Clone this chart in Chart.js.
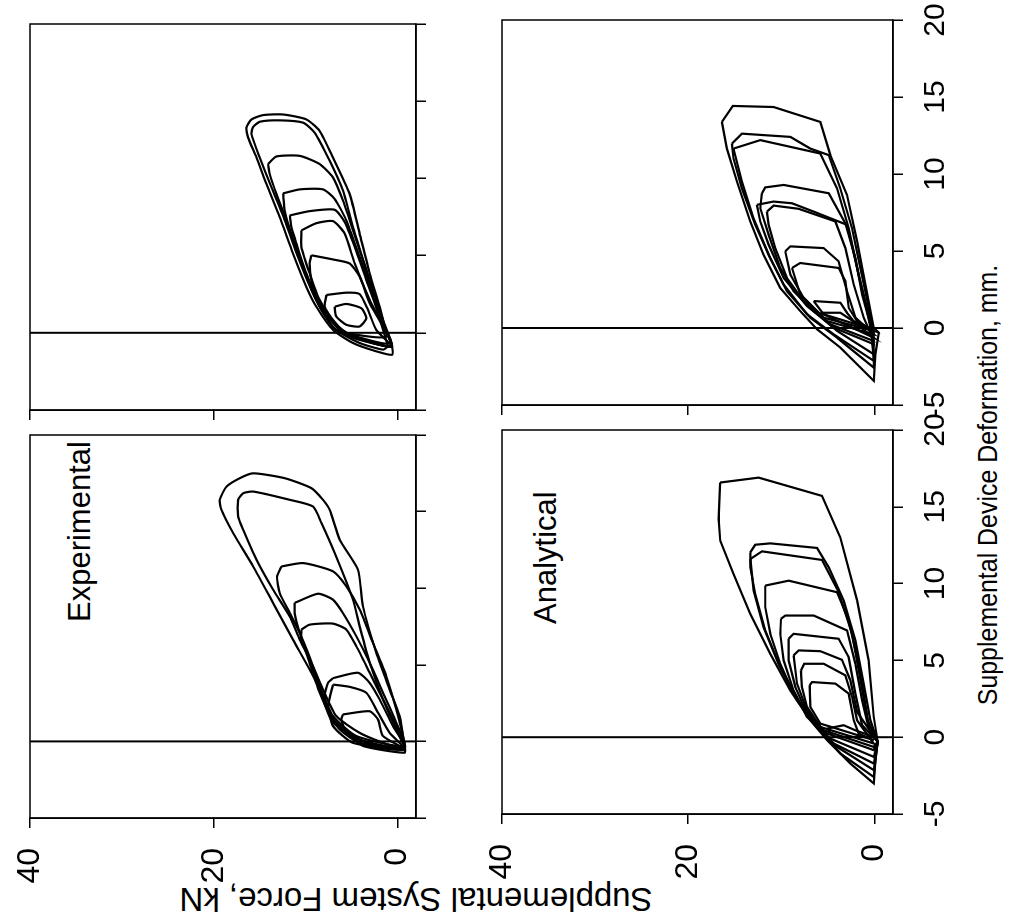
<!DOCTYPE html>
<html><head><meta charset="utf-8">
<script src="https://cdn.jsdelivr.net/npm/chart.js@4.4.1/dist/chart.umd.min.js"></script>
<style>
html,body{margin:0;padding:0;background:#fff;overflow:hidden;width:1013px;height:919px;}
#fig{position:absolute;left:0;top:0;width:919px;height:1013px;transform-origin:0 0;transform:translate(0px,919px) rotate(-90deg);}
#fig canvas{position:absolute;}
.lbl{position:absolute;white-space:nowrap;font-family:"Liberation Sans",Arial,Helvetica,sans-serif;color:#000;line-height:1;}
</style></head><body>
<div id="fig">
  <div class="lbl" style="left:297px;top:64px;font-size:31px;">Experimental</div>
  <div class="lbl" style="left:295px;top:530px;font-size:31px;">Analytical</div>
  <div class="lbl" style="left:20px;top:416px;font-size:33px;transform:translate(-50%,-50%) rotate(-90deg);">Supplemental System Force, kN</div>
  <div class="lbl" style="left:434px;top:988px;font-size:28px;transform:translate(-50%,-50%) scaleX(0.89);">Supplemental Device Deformation, mm.</div>
</div>
<script>
// ---------- tick values ----------
const DEF_TICKS = [-5, 0, 5, 10, 15, 20];
const FORCE_TICKS = [0, 20, 40];
const DEF_RANGE = [-5, 20];
const FORCE_RANGE = [-2, 40];
const ZERO_DEF = 0;
const ZERO_LINE_FORCE = [-2, 40];

// ---------- Experimental, left panel: [deformation mm, force kN] ----------
const E1_L1 = [[-0.3,-0.76],[1.65,-0.22],[3.39,0.87],[5.78,2.32],[8.81,3.77],[11.2,4.31],[13.16,6.3],[15.11,7.39],[15.77,8.12],[16.53,9.38],[17.18,12.28],[17.5,15.72],[17.18,17.17],[16.63,18.62],[15.77,19.35],[15.11,19.17],[13.6,17.9],[11.42,15.72],[9.04,13.55],[6.64,11.38],[4.69,9.57],[3.17,8.29],[1.43,7.03],[0.35,4.86],[-0.3,3.77],[-0.74,-0.76],[-0.3,-0.76]];
const E1_L2 = [[0.56,-0.04],[2.74,1.59],[5.13,3.04],[7.51,4.13],[9.25,4.86],[12.29,6.85],[14.25,8.29],[15.33,9.2],[15.77,11.74],[16.31,15.72],[16.2,16.8],[15.77,17.35],[14.68,17.35],[13.81,16.8],[11.86,15.36],[9.9,13.55],[8.16,11.74],[6.64,10.65],[4.9,9.2],[3.39,8.12],[1.65,6.67],[0.56,4.13],[-0.09,1.59],[-0.52,-0.76],[0.56,-0.04]];
const E1_L3 = [[11.42,12.64],[11.64,10.29],[11.1,7.03],[10.12,5.58],[8.6,4.13],[6.43,2.68],[4.25,1.23],[2.08,0.14],[0.35,-0.58],[-0.52,-0.76],[-0.09,3.4],[1.22,7.03],[2.74,8.12],[4.9,9.2],[7.08,10.65],[8.38,11.74],[9.68,12.83],[10.77,13.12],[11.42,12.64]];
const E1_L4 = [[9.04,11.2],[9.64,8.66],[9.25,7.03],[8.38,5.95],[6.86,4.49],[5.13,3.04],[3.17,1.59],[1.22,0.14],[-0.41,-0.76],[0.13,4.13],[1.43,7.03],[3.17,8.48],[5.13,9.57],[7.08,10.65],[8.38,11.2],[9.04,11.2]];
const E1_L5 = [[7.3,10.47],[7.62,9.57],[7.69,7.03],[7.3,5.58],[6.21,4.49],[4.48,3.04],[2.74,1.59],[1.0,0.14],[-0.3,-0.65],[0.35,4.49],[1.65,7.03],[3.6,8.48],[5.34,9.57],[6.64,10.47],[7.3,10.47]];
const E1_L6 = [[4.13,7.03],[4.48,4.31],[3.82,3.04],[2.74,1.96],[1.0,0.51],[-0.41,-0.76],[-0.09,4.13],[0.78,6.3],[1.87,7.39],[2.95,7.93],[3.82,7.57],[4.13,7.03]];
const E1_L7 = [[3.71,7.03],[3.56,5.22],[3.17,3.4],[2.08,2.32],[0.56,0.87],[-0.52,-0.76],[-0.09,4.86],[1.0,7.03],[2.3,7.57],[3.71,7.03]];
const E1_L8 = [[1.76,5.95],[1.97,3.04],[1.43,2.14],[0.35,1.59],[-0.52,-0.76],[-0.3,3.4],[0.56,5.58],[1.43,6.12],[1.76,5.95]];

// ---------- Experimental, right panel ----------
const E2_L1 = [[-0.02,1.23],[1.69,1.96],[3.84,3.04],[6.42,4.13],[9.0,5.22],[11.35,7.03],[13.07,8.48],[13.82,9.93],[14.14,12.46],[14.1,14.64],[13.82,15.9],[13.28,16.45],[12.64,16.27],[11.35,15.36],[9.64,14.27],[7.49,12.83],[5.13,11.38],[2.98,9.93],[1.69,8.84],[0.19,7.03],[-0.66,4.86],[-1.2,2.32],[-1.42,0.58],[-0.66,0.68],[-0.02,1.23]];
const E2_L2 = [[-0.88,1.05],[1.69,2.32],[4.06,3.4],[6.84,4.86],[9.21,5.95],[11.14,7.39],[12.96,9.02],[13.61,10.29],[13.76,12.83],[13.67,15.0],[13.33,15.72],[12.86,15.9],[11.35,15.0],[9.42,13.73],[7.28,12.28],[4.91,10.84],[2.77,9.38],[1.48,8.29],[0.19,6.67],[-0.66,4.13],[-1.09,1.59],[-0.88,1.05]];
const E2_L3 = [[10.93,14.1],[11.42,13.19],[11.46,10.65],[10.93,8.48],[10.06,7.03],[8.56,5.95],[5.99,4.49],[3.41,3.04],[0.84,1.59],[-0.88,0.68],[-0.24,4.86],[1.05,7.75],[2.56,9.2],[4.91,10.65],[7.28,12.1],[9.0,13.19],[10.28,13.91],[10.93,14.1]];
const E2_L4 = [[9.03,12.46],[9.29,10.65],[9.29,8.12],[8.67,6.85],[7.28,5.58],[4.91,4.13],[2.56,2.68],[0.19,1.23],[-0.88,0.68],[-0.02,5.58],[1.48,8.12],[3.63,9.93],[5.99,11.38],[7.92,12.28],[9.03,12.46]];
const E2_L5 = [[7.6,11.74],[7.88,9.57],[7.97,6.85],[7.17,5.76],[5.56,4.67],[3.41,3.4],[1.05,1.96],[-0.88,0.68],[0.08,5.95],[1.91,8.48],[3.84,9.93],[5.78,11.01],[6.84,11.56],[7.6,11.74]];
const E2_L6 = [[6.63,10.47],[7.1,8.84],[7.23,7.03],[6.42,5.76],[4.49,4.67],[2.12,3.04],[-0.66,0.87],[0.19,6.3],[2.12,8.48],[3.84,9.57],[5.56,10.47],[6.63,10.47]];
const E2_L7 = [[5.02,9.38],[4.75,7.03],[4.49,5.22],[3.63,4.13],[1.91,3.04],[-0.24,1.23],[0.19,6.67],[1.69,8.48],[3.41,9.38],[4.49,9.57],[5.02,9.38]];
const E2_L8 = [[2.45,7.75],[2.6,5.58],[2.51,4.13],[1.48,3.22],[0.19,2.32],[-0.88,0.68],[-0.24,5.22],[0.84,7.03],[1.69,7.93],[2.45,7.75]];
const E2_L9 = [[1.69,6.85],[1.87,5.58],[1.59,3.95],[0.95,3.4],[0.41,4.13],[0.52,5.58],[1.05,6.67],[1.69,6.85]];

// ---------- Analytical, left panel ----------
const A1_L1 = [[16.58,16.56],[16.9,12.44],[15.71,5.62],[13.01,3.66],[8.9,1.86],[5.0,0.61],[1.32,0.07],[-0.3,-0.36],[-1.49,-0.11],[-3.01,0.07],[-1.71,2.58],[-0.19,5.09],[1.1,6.88],[3.05,9.03],[5.43,11.18],[8.03,13.33],[10.63,15.13],[12.79,16.56],[14.2,16.74],[16.58,16.56]];
const A1_L2 = [[12.03,13.33],[12.53,12.8],[12.62,11.18],[12.32,6.16],[11.06,4.91],[8.9,3.3],[6.3,2.04],[3.49,1.15],[1.1,0.43],[-0.3,-0.36],[-2.58,0.07],[-1.06,3.66],[0.45,5.81],[2.19,7.96],[4.56,10.11],[6.95,11.72],[9.33,12.8],[11.06,13.33],[12.03,13.33]];
const A1_L3 = [[11.6,13.33],[12.1,12.08],[11.54,5.62],[9.44,3.84],[6.73,2.4],[3.49,1.43],[1.1,0.72],[-0.3,-0.36],[-2.14,0.07],[-0.63,4.01],[0.67,6.16],[2.4,8.31],[4.78,10.29],[7.16,11.9],[9.55,12.98],[11.6,13.33]];
const A1_L4 = [[9.87,11.72],[10.19,9.21],[9.44,4.01],[7.6,2.76],[5.21,1.86],[2.84,1.15],[0.78,0.61],[-0.3,-0.36],[-1.71,0.07],[-0.41,4.37],[0.89,6.52],[2.84,8.68],[4.78,10.11],[6.73,11.18],[8.46,11.72],[9.87,11.72]];
const A1_L5 = [[7.71,10.03],[7.92,9.57],[7.92,6.52],[6.95,2.94],[4.78,2.04],[2.4,1.32],[0.56,0.61],[-0.3,-0.36],[-1.28,0.07],[-0.09,4.73],[1.32,7.24],[3.05,8.68],[5.0,9.75],[6.73,10.11],[7.71,10.03]];
const A1_L6 = [[6.41,9.21],[6.73,8.68],[6.41,3.84],[5.21,2.76],[2.84,2.04],[0.78,1.32],[-0.3,-0.36],[-0.84,0.07],[0.24,5.09],[1.54,7.24],[3.27,8.49],[5.0,9.21],[6.41,9.21]];
const A1_L7 = [[5.32,8.68],[5.65,8.13],[5.6,5.81],[5.04,3.48],[3.7,2.58],[1.64,1.86],[-0.3,-0.36],[-0.63,0.07],[0.45,5.45],[1.75,7.24],[3.49,8.31],[5.32,8.68]];
const A1_L8 = [[4.35,7.89],[4.78,7.53],[4.78,5.45],[4.03,3.12],[2.62,2.4],[1.1,1.86],[-0.41,0.07],[0.67,5.81],[1.97,7.24],[3.27,7.78],[4.35,7.89]];
const A1_L9 = [[3.38,6.96],[3.59,6.7],[3.49,4.19],[2.84,2.76],[1.1,2.22],[0.24,1.69],[-0.19,0.07],[0.89,5.81],[1.97,6.88],[3.38,6.96]];
const A1_L10 = [[0.56,5.09],[0.78,3.3],[0.45,2.04],[0.02,0.07],[0.02,4.37],[0.56,5.09]];

// ---------- Analytical, right panel ----------
const A2_L1 = [[13.38,16.38],[14.42,15.2],[14.35,10.82],[13.38,5.81],[11.23,4.73],[8.64,2.94],[5.62,1.86],[2.82,0.97],[0.02,0.07],[-0.3,-0.47],[-1.7,-0.11],[-3.43,0.07],[-1.27,3.66],[-0.08,6.16],[1.1,7.96],[2.6,10.11],[4.76,11.9],[6.92,13.33],[9.5,14.76],[11.65,15.84],[13.38,16.38]];
const A2_L2 = [[11.98,15.3],[12.62,14.23],[12.41,9.03],[11.65,6.88],[11.23,4.91],[9.07,3.66],[6.48,2.4],[3.9,1.51],[1.31,0.61],[-0.19,0.07],[-2.57,0.07],[-0.63,4.01],[0.67,6.88],[2.39,9.39],[4.54,11.18],[6.7,12.8],[9.07,14.23],[11.01,15.13],[11.98,15.3]];
const A2_L3 = [[11.65,15.13],[12.2,12.26],[11.33,5.81],[9.07,4.01],[6.48,2.76],[3.47,1.69],[0.45,0.43],[-2.13,0.07],[-0.41,4.37],[0.89,7.24],[2.82,9.75],[4.76,11.36],[7.13,12.98],[9.5,14.23],[11.65,15.13]];
const A2_L4 = [[8.75,12.08],[9.13,11.72],[9.29,9.75],[8.75,4.91],[6.81,3.12],[4.54,2.04],[2.18,1.32],[0.24,0.43],[-1.7,0.07],[-0.19,4.01],[1.1,6.52],[2.39,8.68],[3.9,10.11],[6.06,11.36],[7.78,12.26],[8.75,12.08]];
const A2_L5 = [[8.0,12.62],[8.21,10.82],[8.1,8.85],[7.56,6.52],[6.7,2.94],[3.9,1.86],[1.1,0.79],[-1.05,0.07],[0.02,4.37],[1.42,7.24],[3.25,9.75],[5.41,11.36],[6.92,12.26],[8.0,12.62]];
const A2_L6 = [[7.56,11.54],[7.95,10.82],[7.74,8.13],[6.92,4.19],[5.19,3.12],[2.82,2.22],[0.67,1.15],[-0.84,0.07],[0.24,4.73],[1.75,7.6],[3.25,9.39],[5.19,10.65],[6.7,11.36],[7.56,11.54]];
const A2_L7 = [[4.98,9.57],[5.3,9.03],[5.19,5.45],[4.33,3.84],[2.39,2.94],[0.67,2.04],[-0.41,0.07],[0.45,5.09],[1.96,7.6],[3.47,9.03],[4.98,9.57]];
const A2_L8 = [[3.9,8.85],[4.22,7.96],[3.9,3.84],[3.04,3.12],[1.31,2.76],[0.45,1.86],[-0.19,0.07],[0.67,5.45],[2.18,7.96],[3.9,8.85]];
const A2_L9 = [[1.75,6.52],[1.64,3.66],[0.99,2.94],[0.45,2.22],[-0.08,0.25],[0.89,5.45],[1.75,6.52]];
const A2_L10 = [[0.99,5.81],[0.99,3.66],[0.56,2.58],[-0.63,0.07],[0.99,5.81]];

// ---------- panel table (built from the arrays above) ----------
const FONT = '"Liberation Sans", Arial, Helvetica, sans-serif';
const PANELS = [
  { loops:[E1_L1,E1_L2,E1_L3,E1_L4,E1_L5,E1_L6,E1_L7,E1_L8], tension:0.2,
    left:101, right:484, top:30, bottom:416, xLabels:false, yLabels:true },
  { loops:[E2_L1,E2_L2,E2_L3,E2_L4,E2_L5,E2_L6,E2_L7,E2_L8,E2_L9], tension:0.2,
    left:509, right:895, top:30, bottom:416, xLabels:false, yLabels:false },
  { loops:[A1_L1,A1_L2,A1_L3,A1_L4,A1_L5,A1_L6,A1_L7,A1_L8,A1_L9,A1_L10], tension:0,
    left:105, right:489, top:502, bottom:893, xLabels:true, yLabels:true },
  { loops:[A2_L1,A2_L2,A2_L3,A2_L4,A2_L5,A2_L6,A2_L7,A2_L8,A2_L9,A2_L10], tension:0,
    left:514, right:899, top:502, bottom:893, xLabels:true, yLabels:false }
];

const boxPlugin = {
  id: 'box',
  afterDatasetsDraw(chart) {
    const a = chart.chartArea, ctx = chart.ctx;
    ctx.save();
    ctx.strokeStyle = '#000';
    ctx.lineWidth = 1.5;
    ctx.strokeRect(a.left, a.top, a.right - a.left, a.bottom - a.top);
    ctx.restore();
  }
};

const fig = document.getElementById('fig');
PANELS.forEach(p => {
  const AY = 110, PT = 45, PR = 45, AX = p.xLabels ? 80 : 45;
  const cv = document.createElement('canvas');
  cv.width = (p.right - p.left) + AY + PR;
  cv.height = (p.bottom - p.top) + PT + AX;
  cv.style.left = (p.left - AY) + 'px';
  cv.style.top = (p.top - PT) + 'px';
  fig.appendChild(cv);

  const datasets = p.loops.map(loop => ({
    data: loop.map(([d, f]) => ({ x: d, y: f })),
    showLine: true, pointRadius: 0, borderColor: '#000', borderWidth: 2.2,
    tension: p.tension, fill: false
  }));
  datasets.push({
    data: ZERO_LINE_FORCE.map(f => ({ x: ZERO_DEF, y: f })),
    showLine: true, pointRadius: 0, borderColor: '#000', borderWidth: 2, fill: false
  });

  new Chart(cv, {
    type: 'scatter',
    data: { datasets },
    options: {
      responsive: false, animation: false, events: [],
      layout: { padding: { left: 0, top: PT, right: PR, bottom: 0 } },
      plugins: { legend: { display: false }, tooltip: { enabled: false } },
      scales: {
        x: {
          type: 'linear', position: 'bottom', min: DEF_RANGE[0], max: DEF_RANGE[1],
          afterBuildTicks: s => { s.ticks = DEF_TICKS.map(v => ({ value: v })); },
          afterFit: s => { s.height = AX; },
          grid: { drawOnChartArea: false, drawTicks: true, tickLength: 10, color: '#000', lineWidth: 1.5 },
          border: { display: true, color: '#000', width: 1.5 },
          ticks: { display: p.xLabels, autoSkip: false, maxRotation: 0, minRotation: 0, padding: 15,
                   color: '#000', font: { family: FONT, size: 30 } }
        },
        y: {
          type: 'linear', position: 'left', min: FORCE_RANGE[0], max: FORCE_RANGE[1],
          afterBuildTicks: s => { s.ticks = FORCE_TICKS.map(v => ({ value: v })); },
          afterFit: s => { s.width = AY; },
          grid: { drawOnChartArea: false, drawTicks: true, tickLength: 10, color: '#000', lineWidth: 1.5 },
          border: { display: true, color: '#000', width: 1.5 },
          ticks: { display: p.yLabels, autoSkip: false, padding: 20,
                   color: '#000', font: { family: FONT, size: 32 } }
        }
      }
    },
    plugins: [boxPlugin]
  });
});
</script>
</body></html>
